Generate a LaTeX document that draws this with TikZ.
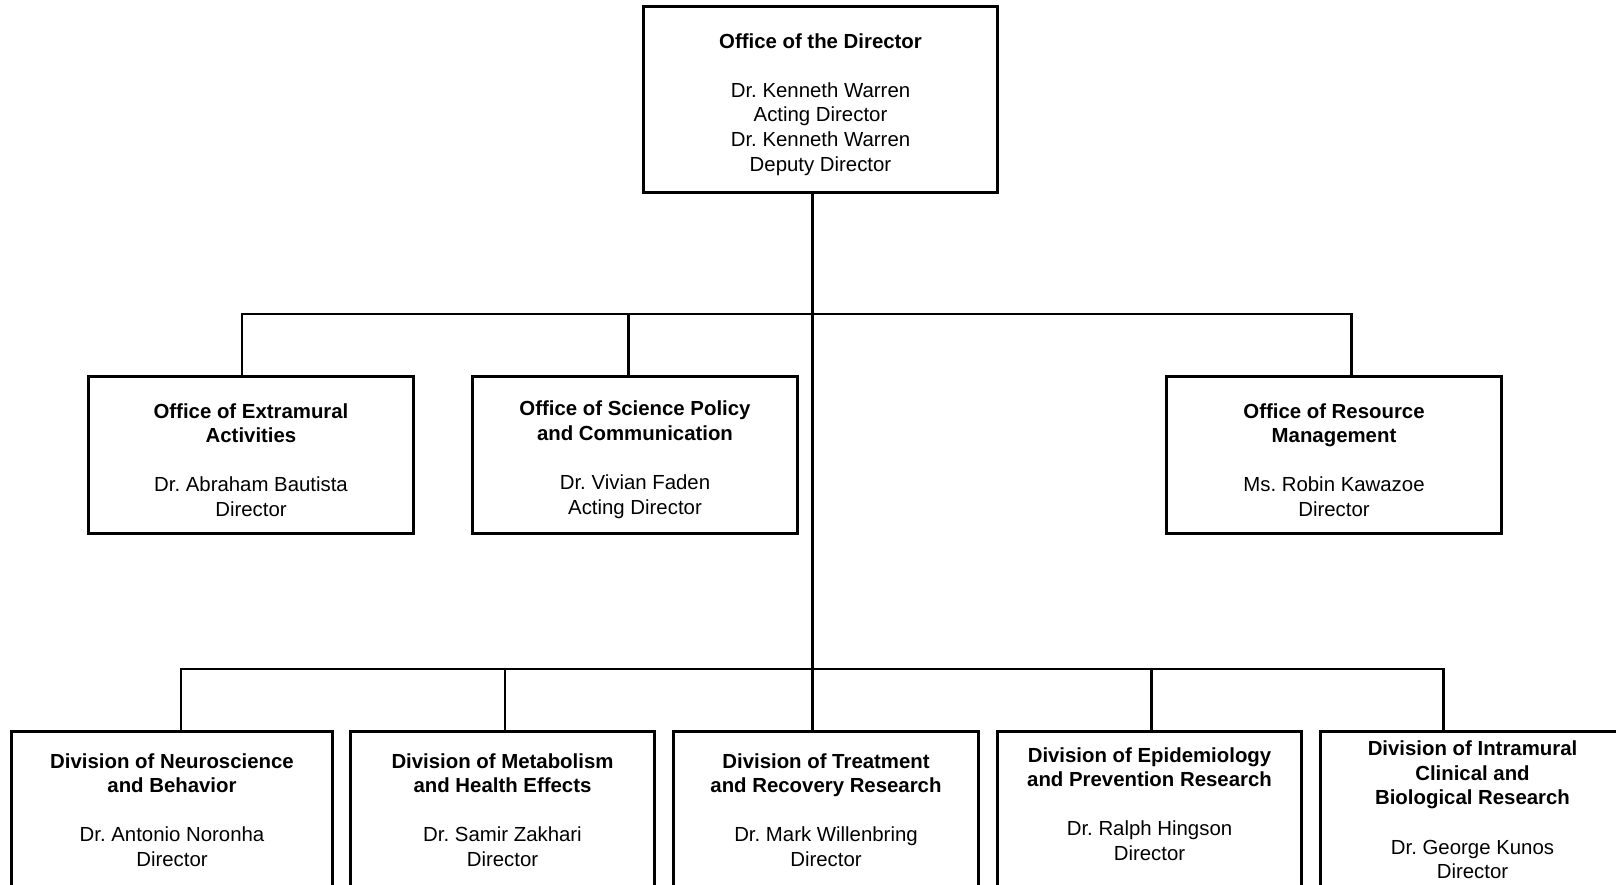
\documentclass[tikz,border=0pt]{standalone}
\usepackage{fontspec}
\setmainfont{Liberation Sans}
\usetikzlibrary{positioning}
\frenchspacing
\newcommand{\padtop}{\rule{0pt}{14pt}}
\newcommand{\padbottom}{\rule[-7pt]{0pt}{7pt}}

\begin{document}
\begin{tikzpicture}[x=0.02cm, y=-0.02cm,
  unit/.style={draw, line width=1.7pt, align=center, inner sep=0pt,
               font=\fontsize{11.6pt}{14pt}\selectfont},
  office/.style={unit, minimum width=6.5cm, minimum height=3.16cm},
  division/.style={unit, minimum width=6.1cm, minimum height=3.16cm},
  link/.style={line width=1.7pt},
]
  \useasboundingbox (0,0) rectangle (1616,885);
  \clip (0,0) rectangle (1616,885);

  % top
  \node[unit, minimum width=7.1cm, minimum height=3.74cm] (dir) at (820.5,99.5) {
    \padtop\textbf{Office of the Director}\\[14pt]
    Dr. Kenneth Warren\\
    Acting Director\\
    Dr. Kenneth Warren\\
    Deputy Director
  };

  % offices
  \node[office] (ext) at (251,455) {
    \padtop\textbf{Office of Extramural}\\
    \textbf{Activities}\\[14pt]
    Dr. Abraham Bautista\\
    Director
  };
  \node[office] (sci) at (635,455) {
    \padtop\textbf{Office of Science Policy}\\
    \textbf{and Communication}\\[14pt]
    Dr. Vivian Faden\\
    Acting Director
  };
  \node[office, minimum width=6.72cm] (res) at (1334,455) {
    \padtop\textbf{Office of Resource}\\
    \textbf{Management}\\[14pt]
    Ms. Robin Kawazoe\\
    Director
  };

  % divisions
  \node[division, minimum width=6.44cm] (neuro) at (172,810) {
    \textbf{Division of Neuroscience}\\
    \textbf{and Behavior}\\[14pt]
    Dr. Antonio Noronha\\
    Director
  };
  \node[division] (metab) at (502.5,810) {
    \textbf{Division of Metabolism}\\
    \textbf{and Health Effects}\\[14pt]
    Dr. Samir Zakhari\\
    Director
  };
  \node[division] (treat) at (826,810) {
    \textbf{Division of Treatment}\\
    \textbf{and Recovery Research}\\[14pt]
    Dr. Mark Willenbring\\
    Director
  };
  \node[division] (epid) at (1149.5,810) {
    \textbf{Division of Epidemiology}\\
    \textbf{and Prevention Research}\\[14pt]
    Dr. Ralph Hingson\\
    Director\padbottom
  };
  \node[division] (intra) at (1472.5,810) {
    \textbf{Division of Intramural}\\
    \textbf{Clinical and}\\
    \textbf{Biological Research}\\[14pt]
    Dr. George Kunos\\
    Director
  };

  % connectors
  \coordinate (trunk) at (812,314);
  \coordinate (o1) at (242,314);
  \coordinate (o2) at (628,314);
  \coordinate (o3) at (1351,314);
  \coordinate (d1) at (181,669);
  \coordinate (d2) at (505,669);
  \coordinate (d4) at (1151,669);
  \coordinate (d5) at (1443,669);

  \draw[link] (dir.south -| trunk) -- (trunk |- treat.north);
  \draw[link] (o1 |- ext.north) -- (o1) -- (o3) -- (o3 |- res.north);
  \draw[link] (o2) -- (o2 |- sci.north);
  \draw[link] (d1 |- neuro.north) -- (d1) -- (d5) -- (d5 |- intra.north);
  \draw[link] (d2) -- (d2 |- metab.north);
  \draw[link] (d4) -- (d4 |- epid.north);
\end{tikzpicture}
\end{document}
